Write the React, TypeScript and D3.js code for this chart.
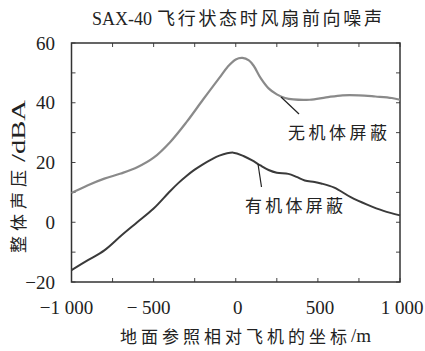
import React from "react";
import * as d3 from "d3";

const xTickValues = [-1000, -500, 0, 500, 1000];
const xTickLabels = ["\u22121 000", "\u2212 500", "0", "500", "1 000"];
const yTickValues = [-20, 0, 20, 40, 60];
const yTickLabels = ["\u221220", "0", "20", "40", "60"];

const upperX = [-1000, -900, -800, -700, -600, -500, -400, -300, -200, -100, -50, 0, 40, 80, 110, 150, 200, 250, 300, 350, 450, 550, 650, 750, 850, 950, 1000];
const upperY = [9.8, 12.4, 14.6, 16.3, 18.4, 21.6, 26.8, 33.5, 41.0, 48.3, 52.0, 54.5, 55.0, 54.2, 52.3, 48.4, 44.8, 42.8, 41.6, 41.1, 41.0, 41.8, 42.5, 42.5, 42.1, 41.6, 41.0];

const lowerX = [-1000, -900, -800, -700, -600, -500, -400, -350, -300, -250, -200, -150, -100, -15, 50, 100, 150, 200, 250, 320, 370, 420, 480, 520, 600, 700, 800, 900, 1000];
const lowerY = [-16, -12.7, -9.4, -4.6, 0.0, 4.6, 10.4, 13.1, 15.5, 17.6, 19.4, 21.0, 22.3, 23.3, 22.1, 20.7, 19.0, 17.5, 16.6, 16.2, 15.2, 14.0, 13.5, 13.0, 11.6, 8.4, 5.9, 3.8, 2.3];

const titleLatin = "SAX-40";
const titleCJK = "飞行状态时风扇前向噪声";
const xTitleCJK = "地面参照相对飞机的坐标";
const xTitleUnit = "/m";
const yTitleCJK = "整体声压";
const yTitleUnit = "/dBA";
const upperLabel = "无机体屏蔽";
const lowerLabel = "有机体屏蔽";

const W = 425;
const H = 351;
const left = 71.5;
const right = 400;
const top = 43;
const bottom = 282;

const FONT = "'Liberation Serif', 'DejaVu Serif', 'Noto Sans CJK SC', serif";

export default function App() {
  const x = d3.scaleLinear().domain([-1000, 1000]).range([left, right]);
  const y = d3.scaleLinear().domain([-20, 60]).range([bottom, top]);
  const line = d3
    .line<[number, number]>()
    .x((d) => x(d[0]))
    .y((d) => y(d[1]))
    .curve(d3.curveCatmullRom.alpha(0.5));
  const upper = upperX.map((v, i) => [v, upperY[i]] as [number, number]);
  const lower = lowerX.map((v, i) => [v, lowerY[i]] as [number, number]);
  const xMinor = d3.range(-1000, 1001, 250);
  const yMinor = d3.range(-20, 61, 10);
  const tick = 4;

  return (
    <svg width={W} height={H} style={{ position: "absolute", left: 0, top: 0, background: "#fff", fontFamily: FONT }}>
      <rect x={0} y={0} width={W} height={H} fill="#fff" />
      <text x={92} y={25} fontSize={18} fill="#222">
        {titleLatin}
      </text>
      <text x={157} y={25} fontSize={18} textLength={225} lengthAdjust="spacing" fill="#222">
        {titleCJK}
      </text>
      {xMinor.map((v) => (
        <g key={"xt" + v} stroke="#444" strokeWidth={1}>
          <line x1={x(v)} x2={x(v)} y1={bottom} y2={bottom - tick} />
          <line x1={x(v)} x2={x(v)} y1={top} y2={top + tick} />
        </g>
      ))}
      {yMinor.map((v) => (
        <g key={"yt" + v} stroke="#444" strokeWidth={1}>
          <line x1={left} x2={left + tick} y1={y(v)} y2={y(v)} />
          <line x1={right} x2={right - tick} y1={y(v)} y2={y(v)} />
        </g>
      ))}
      <rect x={left} y={top} width={right - left} height={bottom - top} fill="none" stroke="#333" strokeWidth={1.5} />
      <path d={line(upper) || ""} fill="none" stroke="#8a8a8a" strokeWidth={2.2} />
      <path d={line(lower) || ""} fill="none" stroke="#3a3a3a" strokeWidth={2} />
      {xTickValues.map((v, i) => (
        <text key={"xl" + v} x={x(v) + (v < 0 ? -5 : 2)} y={314} fontSize={19} textAnchor="middle" fill="#222">
          {xTickLabels[i]}
        </text>
      ))}
      {yTickValues.map((v, i) => (
        <text key={"yl" + v} x={55} y={y(v) + 6.5} fontSize={19} textAnchor="end" fill="#222">
          {yTickLabels[i]}
        </text>
      ))}
      <text x={120} y={343} fontSize={17} textLength={227} lengthAdjust="spacing" fill="#222">
        {xTitleCJK}
      </text>
      <text x={351} y={342} fontSize={19} fill="#222">
        {xTitleUnit}
      </text>
      <g transform="rotate(-90)">
        <text x={-253} y={24.5} fontSize={17} textLength={83} lengthAdjust="spacing" fill="#222">
          {yTitleCJK}
        </text>
        <text x={-162} y={24.5} fontSize={19} textLength={62} lengthAdjust="spacingAndGlyphs" fill="#222">
          {yTitleUnit}
        </text>
      </g>
      <line x1={281} y1={97} x2={299} y2={114} stroke="#222" strokeWidth={1.2} />
      <text x={337.5} y={138.5} fontSize={17} textAnchor="middle" textLength={99} lengthAdjust="spacing" fill="#222">
        {upperLabel}
      </text>
      <line x1={258} y1={164} x2={261.5} y2={187} stroke="#222" strokeWidth={1.2} />
      <text x={294} y={211.5} fontSize={17} textAnchor="middle" textLength={98} lengthAdjust="spacing" fill="#222">
        {lowerLabel}
      </text>
    </svg>
  );
}
